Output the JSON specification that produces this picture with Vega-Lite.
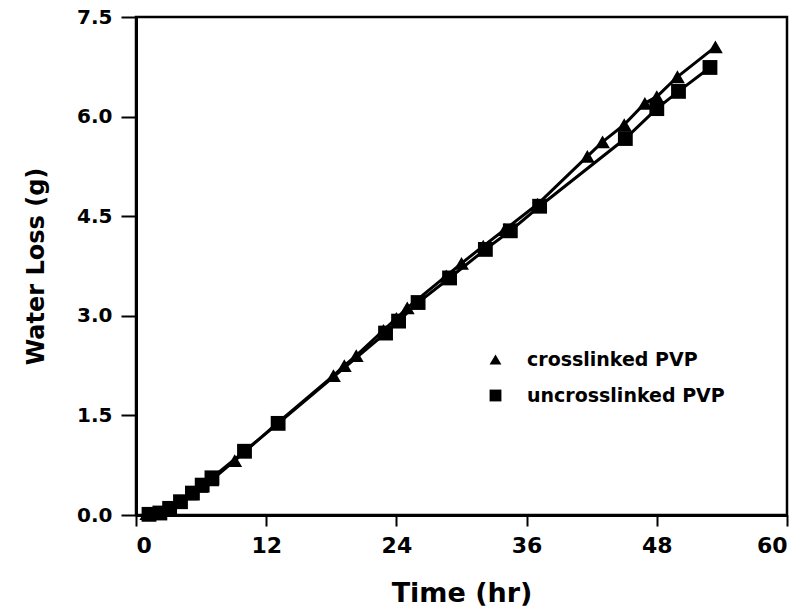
{
  "$schema": "https://vega.github.io/schema/vega-lite/v6.json",
  "width": 651,
  "height": 498,
  "autosize": {"type": "none"},
  "padding": {"left": 136, "top": 17, "right": 25, "bottom": 99},
  "background": "white",
  "config": {
    "view": {"stroke": "black", "strokeWidth": 2.5},
    "axis": {
      "grid": false,
      "domainColor": "black",
      "domainWidth": 3,
      "tickColor": "black",
      "tickWidth": 2,
      "labelColor": "black",
      "titleColor": "black",
      "labelFont": "DejaVu Sans",
      "titleFont": "DejaVu Sans",
      "labelFontWeight": "bold",
      "titleFontWeight": "bold"
    },
    "legend": {
      "labelFont": "DejaVu Sans",
      "labelFontWeight": "bold",
      "labelColor": "black"
    }
  },
  "data": {
    "values": [
      {"series": "crosslinked PVP", "time": 1, "loss": 0.02},
      {"series": "crosslinked PVP", "time": 2, "loss": 0.04},
      {"series": "crosslinked PVP", "time": 3, "loss": 0.1},
      {"series": "crosslinked PVP", "time": 4, "loss": 0.2},
      {"series": "crosslinked PVP", "time": 5, "loss": 0.32},
      {"series": "crosslinked PVP", "time": 6, "loss": 0.43},
      {"series": "crosslinked PVP", "time": 7, "loss": 0.53},
      {"series": "crosslinked PVP", "time": 9.1, "loss": 0.82},
      {"series": "crosslinked PVP", "time": 13, "loss": 1.38},
      {"series": "crosslinked PVP", "time": 18.2, "loss": 2.1},
      {"series": "crosslinked PVP", "time": 19.2, "loss": 2.25},
      {"series": "crosslinked PVP", "time": 20.3, "loss": 2.4},
      {"series": "crosslinked PVP", "time": 22.8, "loss": 2.78},
      {"series": "crosslinked PVP", "time": 24, "loss": 2.96},
      {"series": "crosslinked PVP", "time": 25, "loss": 3.12},
      {"series": "crosslinked PVP", "time": 28.6, "loss": 3.6},
      {"series": "crosslinked PVP", "time": 30, "loss": 3.79},
      {"series": "crosslinked PVP", "time": 32, "loss": 4.05},
      {"series": "crosslinked PVP", "time": 34, "loss": 4.3},
      {"series": "crosslinked PVP", "time": 37, "loss": 4.68},
      {"series": "crosslinked PVP", "time": 41.6, "loss": 5.4},
      {"series": "crosslinked PVP", "time": 43, "loss": 5.62},
      {"series": "crosslinked PVP", "time": 45, "loss": 5.88},
      {"series": "crosslinked PVP", "time": 46.9, "loss": 6.2},
      {"series": "crosslinked PVP", "time": 48, "loss": 6.3},
      {"series": "crosslinked PVP", "time": 49.9, "loss": 6.6},
      {"series": "crosslinked PVP", "time": 53.4, "loss": 7.05},
      {"series": "uncrosslinked PVP", "time": 1.2, "loss": 0.01},
      {"series": "uncrosslinked PVP", "time": 2.2, "loss": 0.03},
      {"series": "uncrosslinked PVP", "time": 3.1, "loss": 0.1},
      {"series": "uncrosslinked PVP", "time": 4.1, "loss": 0.2},
      {"series": "uncrosslinked PVP", "time": 5.2, "loss": 0.33},
      {"series": "uncrosslinked PVP", "time": 6.1, "loss": 0.45},
      {"series": "uncrosslinked PVP", "time": 7, "loss": 0.56},
      {"series": "uncrosslinked PVP", "time": 10, "loss": 0.96},
      {"series": "uncrosslinked PVP", "time": 13.1, "loss": 1.38},
      {"series": "uncrosslinked PVP", "time": 23, "loss": 2.74},
      {"series": "uncrosslinked PVP", "time": 24.2, "loss": 2.92},
      {"series": "uncrosslinked PVP", "time": 26, "loss": 3.2},
      {"series": "uncrosslinked PVP", "time": 28.9, "loss": 3.57},
      {"series": "uncrosslinked PVP", "time": 32.2, "loss": 4.0},
      {"series": "uncrosslinked PVP", "time": 34.5, "loss": 4.28},
      {"series": "uncrosslinked PVP", "time": 37.2, "loss": 4.65},
      {"series": "uncrosslinked PVP", "time": 45.1, "loss": 5.67},
      {"series": "uncrosslinked PVP", "time": 48, "loss": 6.12},
      {"series": "uncrosslinked PVP", "time": 50, "loss": 6.38},
      {"series": "uncrosslinked PVP", "time": 52.9, "loss": 6.74}
    ]
  },
  "encoding": {
    "x": {
      "field": "time",
      "type": "quantitative",
      "scale": {"domain": [0, 60], "nice": false, "zero": false},
      "axis": {
        "title": "Time (hr)",
        "values": [0, 12, 24, 36, 48, 60],
        "tickSize": 11,
        "labelFontSize": 22,
        "labelPadding": 9,
        "titleFontSize": 27,
        "titlePadding": 24
      }
    },
    "y": {
      "field": "loss",
      "type": "quantitative",
      "scale": {"domain": [0, 7.5], "nice": false, "zero": false},
      "axis": {
        "title": "Water Loss (g)",
        "values": [0, 1.5, 3, 4.5, 6, 7.5],
        "format": ".1f",
        "tickSize": 15,
        "labelFontSize": 20,
        "labelPadding": 9,
        "titleFontSize": 24,
        "titlePadding": 28
      }
    }
  },
  "layer": [
    {
      "mark": {"type": "line", "color": "black", "strokeWidth": 3},
      "encoding": {"detail": {"field": "series", "type": "nominal"}}
    },
    {
      "mark": {"type": "point", "filled": true, "color": "black", "opacity": 1, "size": 220},
      "encoding": {
        "shape": {
          "field": "series",
          "type": "nominal",
          "scale": {"domain": ["crosslinked PVP", "uncrosslinked PVP"], "range": ["triangle-up", "square"]},
          "legend": {
            "title": null,
            "orient": "none",
            "legendX": 350,
            "legendY": 333,
            "labelFontSize": 19,
            "labelLimit": 400,
            "labelOffset": 22,
            "rowPadding": 16,
            "symbolSize": 140,
            "symbolFillColor": "black",
            "symbolStrokeColor": "black",
            "symbolType": "square"
          }
        }
      }
    }
  ]
}
